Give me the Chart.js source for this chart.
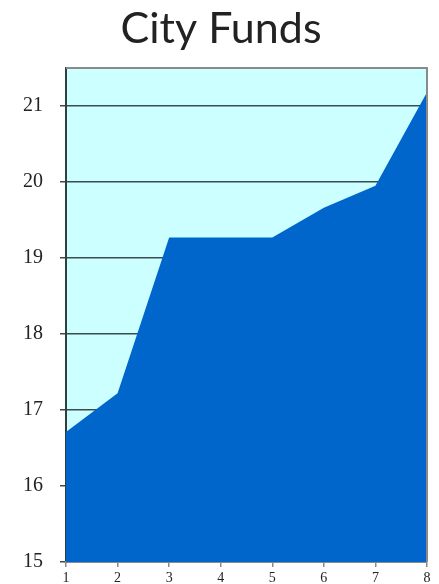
<!DOCTYPE html>
<html>
<head>
<meta charset="utf-8">
<script src="https://cdn.jsdelivr.net/npm/chart.js@4/dist/chart.umd.min.js"></script>
<style>
  html, body { margin: 0; padding: 0; background: #fff; }
  #wrap { width: 439px; height: 584px; }
</style>
</head>
<body>
<div id="wrap"><canvas id="fundsChart" width="439" height="584"></canvas></div>
<script>
// data
const categories = ["1", "2", "3", "4", "5", "6", "7", "8"];
const fundValues = [16.71, 17.22, 19.27, 19.27, 19.27, 19.66, 19.95, 21.18];
const yTicks = [15, 16, 17, 18, 19, 20, 21];
const chartTitle = "City Funds";

// plot background, top/right frame and the title
const frame = {
  id: "frame",
  beforeDraw(chart) {
    const a = chart.chartArea;
    const c = chart.ctx;
    c.save();
    c.fillStyle = "#CCFFFF";
    c.fillRect(a.left, a.top, a.right - a.left, a.bottom - a.top);
    c.restore();
  },
  afterDraw(chart) {
    const a = chart.chartArea;
    const c = chart.ctx;
    c.save();
    c.strokeStyle = "#8a8a8a";
    c.lineWidth = 2;
    c.beginPath();
    c.moveTo(a.left, a.top);
    c.lineTo(a.right, a.top);
    c.lineTo(a.right, a.bottom);
    c.stroke();
    // title
    c.fillStyle = "#222";
    c.font = "43px Lato";
    c.textAlign = "center";
    c.textBaseline = "alphabetic";
    c.fillText(chartTitle, 221, 43);
    c.restore();
  }
};

const ctx = document.getElementById("fundsChart").getContext("2d");
new Chart(ctx, {
  type: "line",
  data: {
    labels: categories,
    datasets: [
      {
        label: chartTitle,
        data: fundValues,
        backgroundColor: "#0066CC",
        borderWidth: 0,
        pointRadius: 0,
        fill: "start",
        tension: 0,
      },
    ],
  },
  options: {
    responsive: false,
    animation: false,
    layout: { padding: { left: 0, right: 12, top: 68, bottom: 0 } },
    scales: {
      y: {
        min: 15,
        max: 21.5,
        afterBuildTicks(scale) {
          scale.ticks = yTicks.map(v => ({ value: v }));
        },
        afterFit(scale) {
          scale.width = 66;
          scale.paddingTop = 0;
          scale.paddingBottom = 0;
        },
        ticks: {
          color: "#222",
          padding: 17,
          font: { family: "Liberation Serif", size: 20 },
        },
        grid: {
          color: "#3c4c4c",
          lineWidth: 1.5,
          tickLength: 6,
        },
        border: { color: "#2f3f3f", width: 2 },
      },
      x: {
        offset: false,
        afterFit(scale) {
          scale.height = 22;
          scale.paddingLeft = 0;
          scale.paddingRight = 0;
        },
        ticks: {
          color: "#222",
          padding: 3,
          maxRotation: 0,
          font: { family: "Liberation Serif", size: 14 },
        },
        grid: {
          drawOnChartArea: false,
          color: "#8a8a8a",
          lineWidth: 1.5,
          tickLength: 5,
        },
        border: { color: "#8a8a8a", width: 2 },
      },
    },
    plugins: {
      legend: { display: false },
      tooltip: { enabled: false },
      title: { display: false },
    },
  },
  plugins: [frame],
});
</script>
</body>
</html>
